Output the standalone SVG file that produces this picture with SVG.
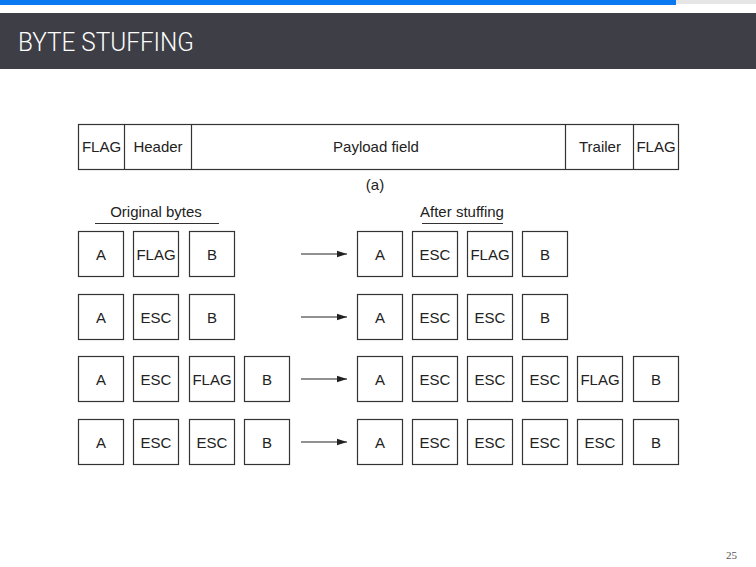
<svg xmlns="http://www.w3.org/2000/svg" width="756" height="567" viewBox="0 0 756 567">
  <defs>
    <marker id="arrowhead" viewBox="0 0 10 8" refX="10" refY="4" markerWidth="10" markerHeight="8" markerUnits="userSpaceOnUse" orient="auto">
      <path d="M0,0.8 L10,4 L0,7.2 Z" fill="#222"/>
    </marker>
  </defs>
  <style>
    .box { fill: #fff; stroke: #333; stroke-width: 1.2; }
    .lbl { font-family: "Liberation Sans", Arial, sans-serif; font-size: 15px; fill: #222; text-anchor: middle; }
    .rule { stroke: #333; stroke-width: 1.2; }
    .conn { stroke: #222; stroke-width: 1.2; fill: none; marker-end: url(#arrowhead); }
  </style>

  <rect width="756" height="567" fill="#fff"/>

  <!-- progress bar -->
  <rect x="0" y="0" width="676" height="5" fill="#0a78f0"/>
  <rect x="676" y="0" width="80" height="4" fill="#e6e6e6"/>

  <!-- title banner -->
  <rect x="0" y="13" width="756" height="56" fill="#3d3e46"/>
  <text x="18" y="51" font-family="Roboto, 'Liberation Sans', sans-serif" font-weight="300" font-size="25" fill="#fff" textLength="176" lengthAdjust="spacingAndGlyphs">BYTE STUFFING</text>

  <!-- frame layout -->
  <g id="frame">
    <rect class="box" x="78.5" y="124.5" width="600" height="45"/>
    <line class="rule" x1="124.5" y1="124.5" x2="124.5" y2="169.5"/>
    <line class="rule" x1="191.5" y1="124.5" x2="191.5" y2="169.5"/>
    <line class="rule" x1="565.5" y1="124.5" x2="565.5" y2="169.5"/>
    <line class="rule" x1="633.5" y1="124.5" x2="633.5" y2="169.5"/>
    <text class="lbl" x="101.5" y="151.5">FLAG</text>
    <text class="lbl" x="158" y="151.5">Header</text>
    <text class="lbl" x="376" y="151.5">Payload field</text>
    <text class="lbl" x="600" y="151.5">Trailer</text>
    <text class="lbl" x="656" y="151.5">FLAG</text>
    <text class="lbl" x="375" y="190">(a)</text>
  </g>

  <!-- column headings -->
  <g id="heading-original">
    <text class="lbl" x="156" y="217">Original bytes</text>
    <line class="rule" x1="95" y1="223.5" x2="219" y2="223.5"/>
  </g>
  <g id="heading-after">
    <text class="lbl" x="462" y="217">After stuffing</text>
    <line class="rule" x1="422" y1="223.5" x2="503" y2="223.5"/>
  </g>

  <!-- row 1 -->
  <g id="r1-in-1"><rect class="box" x="78.5" y="231.5" width="45" height="45"/><text class="lbl" x="101" y="259.5">A</text></g>
  <g id="r1-in-2"><rect class="box" x="133.5" y="231.5" width="45" height="45"/><text class="lbl" x="156" y="259.5">FLAG</text></g>
  <g id="r1-in-3"><rect class="box" x="189.5" y="231.5" width="45" height="45"/><text class="lbl" x="212" y="259.5">B</text></g>
  <g id="r1-out-1"><rect class="box" x="357.5" y="231.5" width="45" height="45"/><text class="lbl" x="380" y="259.5">A</text></g>
  <g id="r1-out-2"><rect class="box" x="412.5" y="231.5" width="45" height="45"/><text class="lbl" x="435" y="259.5">ESC</text></g>
  <g id="r1-out-3"><rect class="box" x="467.5" y="231.5" width="45" height="45"/><text class="lbl" x="490" y="259.5">FLAG</text></g>
  <g id="r1-out-4"><rect class="box" x="522.5" y="231.5" width="45" height="45"/><text class="lbl" x="545" y="259.5">B</text></g>

  <!-- row 2 -->
  <g id="r2-in-1"><rect class="box" x="78.5" y="294.5" width="45" height="45"/><text class="lbl" x="101" y="322.5">A</text></g>
  <g id="r2-in-2"><rect class="box" x="133.5" y="294.5" width="45" height="45"/><text class="lbl" x="156" y="322.5">ESC</text></g>
  <g id="r2-in-3"><rect class="box" x="189.5" y="294.5" width="45" height="45"/><text class="lbl" x="212" y="322.5">B</text></g>
  <g id="r2-out-1"><rect class="box" x="357.5" y="294.5" width="45" height="45"/><text class="lbl" x="380" y="322.5">A</text></g>
  <g id="r2-out-2"><rect class="box" x="412.5" y="294.5" width="45" height="45"/><text class="lbl" x="435" y="322.5">ESC</text></g>
  <g id="r2-out-3"><rect class="box" x="467.5" y="294.5" width="45" height="45"/><text class="lbl" x="490" y="322.5">ESC</text></g>
  <g id="r2-out-4"><rect class="box" x="522.5" y="294.5" width="45" height="45"/><text class="lbl" x="545" y="322.5">B</text></g>

  <!-- row 3 -->
  <g id="r3-in-1"><rect class="box" x="78.5" y="356.5" width="45" height="45"/><text class="lbl" x="101" y="384.5">A</text></g>
  <g id="r3-in-2"><rect class="box" x="133.5" y="356.5" width="45" height="45"/><text class="lbl" x="156" y="384.5">ESC</text></g>
  <g id="r3-in-3"><rect class="box" x="189.5" y="356.5" width="45" height="45"/><text class="lbl" x="212" y="384.5">FLAG</text></g>
  <g id="r3-in-4"><rect class="box" x="244.5" y="356.5" width="45" height="45"/><text class="lbl" x="267" y="384.5">B</text></g>
  <g id="r3-out-1"><rect class="box" x="357.5" y="356.5" width="45" height="45"/><text class="lbl" x="380" y="384.5">A</text></g>
  <g id="r3-out-2"><rect class="box" x="412.5" y="356.5" width="45" height="45"/><text class="lbl" x="435" y="384.5">ESC</text></g>
  <g id="r3-out-3"><rect class="box" x="467.5" y="356.5" width="45" height="45"/><text class="lbl" x="490" y="384.5">ESC</text></g>
  <g id="r3-out-4"><rect class="box" x="522.5" y="356.5" width="45" height="45"/><text class="lbl" x="545" y="384.5">ESC</text></g>
  <g id="r3-out-5"><rect class="box" x="577.5" y="356.5" width="45" height="45"/><text class="lbl" x="600" y="384.5">FLAG</text></g>
  <g id="r3-out-6"><rect class="box" x="633.5" y="356.5" width="45" height="45"/><text class="lbl" x="656" y="384.5">B</text></g>

  <!-- row 4 -->
  <g id="r4-in-1"><rect class="box" x="78.5" y="419.5" width="45" height="45"/><text class="lbl" x="101" y="447.5">A</text></g>
  <g id="r4-in-2"><rect class="box" x="133.5" y="419.5" width="45" height="45"/><text class="lbl" x="156" y="447.5">ESC</text></g>
  <g id="r4-in-3"><rect class="box" x="189.5" y="419.5" width="45" height="45"/><text class="lbl" x="212" y="447.5">ESC</text></g>
  <g id="r4-in-4"><rect class="box" x="244.5" y="419.5" width="45" height="45"/><text class="lbl" x="267" y="447.5">B</text></g>
  <g id="r4-out-1"><rect class="box" x="357.5" y="419.5" width="45" height="45"/><text class="lbl" x="380" y="447.5">A</text></g>
  <g id="r4-out-2"><rect class="box" x="412.5" y="419.5" width="45" height="45"/><text class="lbl" x="435" y="447.5">ESC</text></g>
  <g id="r4-out-3"><rect class="box" x="467.5" y="419.5" width="45" height="45"/><text class="lbl" x="490" y="447.5">ESC</text></g>
  <g id="r4-out-4"><rect class="box" x="522.5" y="419.5" width="45" height="45"/><text class="lbl" x="545" y="447.5">ESC</text></g>
  <g id="r4-out-5"><rect class="box" x="577.5" y="419.5" width="45" height="45"/><text class="lbl" x="600" y="447.5">ESC</text></g>
  <g id="r4-out-6"><rect class="box" x="633.5" y="419.5" width="45" height="45"/><text class="lbl" x="656" y="447.5">B</text></g>

  <!-- connectors -->
  <g id="connectors">
    <line class="conn" x1="301" y1="254" x2="347" y2="254"/>
    <line class="conn" x1="301" y1="317" x2="347" y2="317"/>
    <line class="conn" x1="301" y1="379" x2="347" y2="379"/>
    <line class="conn" x1="301" y1="442" x2="347" y2="442"/>
  </g>

  <!-- page number -->
  <text x="737" y="559" font-family="'Liberation Serif', serif" font-size="11" fill="#555" text-anchor="end">25</text>
</svg>
